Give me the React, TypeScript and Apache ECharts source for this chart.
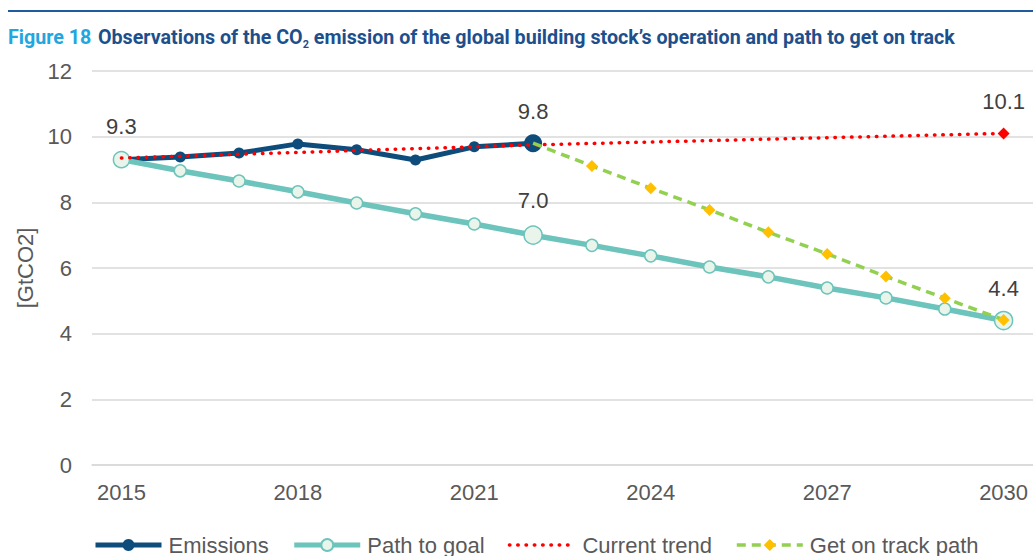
import React, { useEffect, useRef } from "react";
import * as echarts from "echarts";

const years = ["2015", "2016", "2017", "2018", "2019", "2020", "2021", "2022", "2023", "2024", "2025", "2026", "2027", "2028", "2029", "2030"];
const emissions = [9.3, 9.38, 9.5, 9.78, 9.6, 9.29, 9.69, 9.8];
const pathToGoal = [9.3, 8.96, 8.65, 8.32, 7.98, 7.65, 7.34, 7.0, 6.69, 6.37, 6.03, 5.73, 5.39, 5.09, 4.75, 4.4];
const currentTrend = [9.35, null, null, null, null, null, null, 9.75, null, null, null, null, null, null, null, 10.1];
const getOnTrack = [null, null, null, null, null, null, null, 9.8, 9.11, 8.43, 7.77, 7.09, 6.43, 5.74, 5.08, 4.42];
const yTicks = [0, 2, 4, 6, 8, 10, 12];

const LABEL_FONT = "'Liberation Sans', Arial, sans-serif";

const lab = (distance: number) => ({
  show: true,
  position: "top",
  distance,
  color: "#404040",
  fontSize: 22,
  fontFamily: LABEL_FONT,
  formatter: (p: any) => Number(p.value).toFixed(1),
});

export default function App() {
  const ref = useRef<HTMLDivElement>(null);
  useEffect(() => {
    if (!ref.current) return;
    const chart = echarts.init(ref.current, undefined, { renderer: "svg" });
    const option: any = {
      animation: false,
      textStyle: { fontFamily: LABEL_FONT },
      graphic: [
        {
          type: "line",
          shape: { x1: 8, y1: 11, x2: 1033, y2: 11 },
          style: { stroke: "#1f5c9e", lineWidth: 2 },
        },
        {
          type: "text",
          x: 8,
          y: 37,
          scaleX: 0.984,
          style: {
            text: "{a|Figure 18}  {b|Observations of the CO}{s|2}{b| emission of the global building stock\u2019s operation and path to get on track}",
            verticalAlign: "middle",
            rich: {
              a: { fontFamily: "Roboto", fontWeight: "bold", fontSize: 20, fill: "#22a6e0", color: "#22a6e0" },
              b: { fontFamily: "Roboto", fontWeight: "bold", fontSize: 20, fill: "#1d4f8c", color: "#1d4f8c" },
              s: { fontFamily: "Roboto", fontWeight: "bold", fontSize: 11, fill: "#1d4f8c", color: "#1d4f8c", padding: [14, 0, 0, 0] },
            },
          },
        },
      ],
      grid: { left: 92, top: 71, width: 943, height: 394, containLabel: false },
      legend: {
        left: 93,
        bottom: 0,
        padding: 0,
        itemWidth: 66,
        itemHeight: 15,
        itemGap: 23,
        textStyle: { fontSize: 22, color: "#595959", fontFamily: LABEL_FONT, padding: [0, 0, 0, 2] },
        data: [
          { name: "Emissions", lineStyle: { width: 5 } },
          { name: "Path to goal", lineStyle: { width: 5 } },
          { name: "Current trend", lineStyle: { width: 3.5 }, itemStyle: { opacity: 0 } },
          { name: "Get on track path", lineStyle: { width: 3.5 } },
        ],
      },
      xAxis: {
        type: "category",
        data: years,
        boundaryGap: true,
        axisLine: { show: true, lineStyle: { color: "#d9d9d9", width: 1.5 } },
        axisTick: { show: false },
        axisLabel: { interval: 2, fontSize: 22, color: "#595959", margin: 16, fontFamily: LABEL_FONT },
        splitLine: { show: false },
      },
      yAxis: {
        type: "value",
        min: yTicks[0],
        max: yTicks[yTicks.length - 1],
        interval: 2,
        name: "[GtCO2]",
        nameLocation: "middle",
        nameGap: 56,
        nameTextStyle: { fontSize: 22, color: "#595959", fontFamily: LABEL_FONT },
        axisLine: { show: false },
        axisTick: { show: false },
        axisLabel: { fontSize: 22, color: "#595959", margin: 20, fontFamily: LABEL_FONT },
        splitLine: { lineStyle: { color: "#d9d9d9", width: 1.5 } },
      },
      series: [
        {
          name: "Emissions",
          type: "line",
          z: 2,
          symbol: "circle",
          symbolSize: 11,
          lineStyle: { color: "#0d4c7b", width: 5 },
          itemStyle: { color: "#0d4c7b" },
          data: emissions.map((v, i) =>
            i === emissions.length - 1 ? { value: v, symbolSize: 18, label: lab(12) } : v
          ),
        },
        {
          name: "Path to goal",
          type: "line",
          z: 3,
          symbol: "circle",
          symbolSize: 12,
          lineStyle: { color: "#6cc4bc", width: 5.5 },
          itemStyle: { color: "#e9f5ea", borderColor: "#6cc4bc", borderWidth: 1.5 },
          data: pathToGoal.map((v, i) => {
            if (i === 0) return { value: v, symbolSize: 16, label: lab(13) };
            if (i === 7) return { value: v, symbolSize: 18, label: lab(14) };
            if (i === pathToGoal.length - 1) return { value: v, symbolSize: 18, label: lab(11) };
            return v;
          }),
        },
        {
          name: "Current trend",
          type: "line",
          z: 4,
          connectNulls: true,
          symbol: "none",
          lineStyle: { color: "#ff0000", width: 3.5, type: [0.5, 7.8], cap: "round" },
          itemStyle: { color: "#ff0000" },
          data: currentTrend.map((v, i) =>
            i === currentTrend.length - 1
              ? { value: v, symbol: "diamond", symbolSize: 12, label: lab(15) }
              : v
          ),
        },
        {
          name: "Get on track path",
          type: "line",
          z: 5,
          symbol: "diamond",
          symbolSize: 12,
          lineStyle: { color: "#92d050", width: 3.5, type: [9, 6] },
          itemStyle: { color: "#ffc000" },
          data: getOnTrack.map((v, i) => (i === 7 ? { value: v, symbol: "none" } : v)),
        },
      ],
    };
    chart.setOption(option);
    return () => chart.dispose();
  }, []);
  return (
    <div
      ref={ref}
      style={{ position: "fixed", left: 0, top: 0, width: 1033, height: 556, background: "#fff" }}
    />
  );
}
